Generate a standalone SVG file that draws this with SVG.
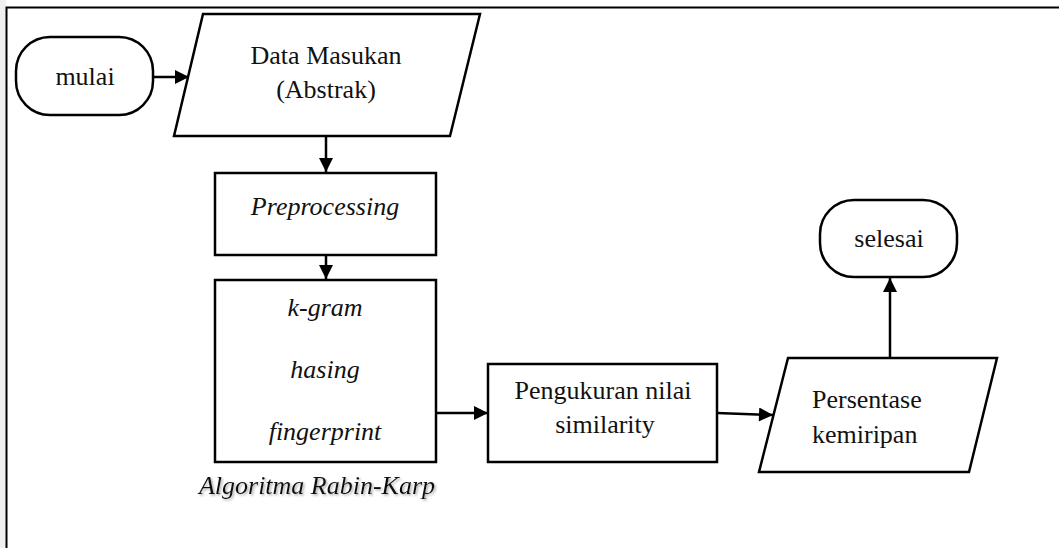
<svg xmlns="http://www.w3.org/2000/svg" width="1059" height="548" viewBox="0 0 1059 548">
<defs>
<style>
.shape{fill:#fff;stroke:#000;stroke-width:2.5;stroke-linejoin:miter}
.conn{stroke:#000;stroke-width:2.5;fill:none}
.t{font-family:"Liberation Serif","Times New Roman",serif;font-size:26px;fill:#111}
.i{font-style:italic}
.c{text-anchor:middle}
</style>
<marker id="arr" viewBox="0 0 10 10" refX="10" refY="5" markerWidth="6.4" markerHeight="5.6" markerUnits="strokeWidth" orient="auto">
<path d="M0,0 L10,5 L0,10 Z" fill="#000"/>
</marker>
<filter id="sh" x="-5%" y="-20%" width="110%" height="140%">
<feDropShadow dx="1.5" dy="1.5" stdDeviation="1" flood-color="#888" flood-opacity="0.7"/>
</filter>
</defs>
<rect x="0" y="0" width="1059" height="548" fill="#fff"/>
<rect x="0" y="0" width="6" height="548" fill="#f0f0f2"/>
<rect id="frame" x="6.5" y="7.5" width="1100" height="600" fill="#fff" stroke="#000" stroke-width="2"/>

<g id="connectors">
<line class="conn" x1="153" y1="77" x2="189" y2="77" marker-end="url(#arr)"/>
<line class="conn" x1="326" y1="136" x2="326" y2="172" marker-end="url(#arr)"/>
<line class="conn" x1="326" y1="255" x2="326" y2="279" marker-end="url(#arr)"/>
<line class="conn" x1="436" y1="413" x2="488" y2="413" marker-end="url(#arr)"/>
<line class="conn" x1="717" y1="413" x2="773" y2="415" marker-end="url(#arr)"/>
<line class="conn" x1="890" y1="358" x2="890" y2="278" marker-end="url(#arr)"/>
</g>

<g id="mulai">
<rect class="shape" x="16" y="37" width="137" height="78" rx="34" ry="34"/>
<text class="t c" x="85" y="85">mulai</text>
</g>

<g id="data-masukan">
<polygon class="shape" points="203,14 480,14 450,136 174,136"/>
<text class="t c" x="326" y="64">Data Masukan</text>
<text class="t c" x="326" y="98">(Abstrak)</text>
</g>

<g id="preprocessing">
<rect class="shape" x="215" y="173" width="221" height="82"/>
<text class="t i c" x="325" y="215">Preprocessing</text>
</g>

<g id="rabin-karp">
<rect class="shape" x="215" y="280" width="221" height="182"/>
<text class="t i c" x="325" y="316">k-gram</text>
<text class="t i c" x="325" y="378">hasing</text>
<text class="t i c" x="325" y="440">fingerprint</text>
<text class="t i c" x="317" y="494" filter="url(#sh)">Algoritma Rabin-Karp</text>
</g>

<g id="pengukuran">
<rect class="shape" x="488" y="364" width="229" height="98"/>
<text class="t c" x="603" y="399">Pengukuran nilai</text>
<text class="t c" x="605" y="433">similarity</text>
</g>

<g id="persentase">
<polygon class="shape" points="788,358 997,358 969,472 759,472"/>
<text class="t" x="812" y="408">Persentase</text>
<text class="t" x="812" y="443">kemiripan</text>
</g>

<g id="selesai">
<rect class="shape" x="820" y="200" width="137" height="77" rx="34" ry="34"/>
<text class="t c" x="889" y="247">selesai</text>
</g>
</svg>
